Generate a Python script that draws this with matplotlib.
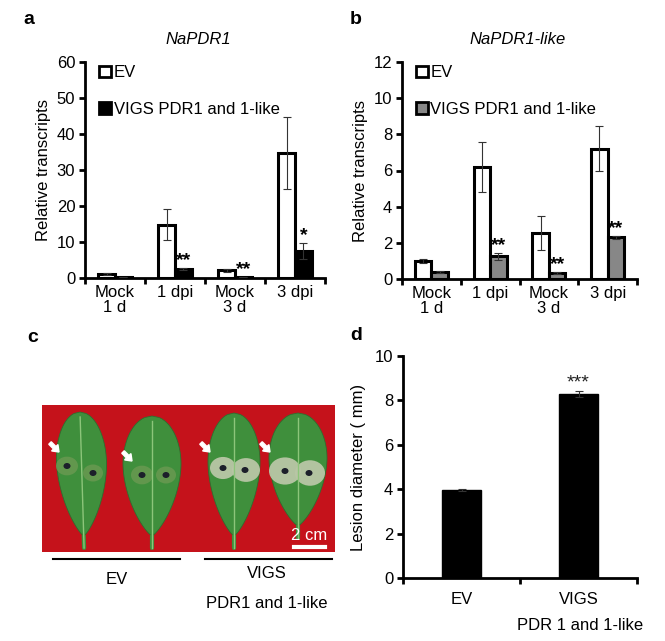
import matplotlib
matplotlib.use("Agg")
import matplotlib.pyplot as plt
import numpy as np
from matplotlib.patches import Patch, Rectangle, Ellipse, FancyArrow, Polygon

plt.rcParams['font.family'] = ['Liberation Sans', 'DejaVu Sans']
plt.rcParams['font.size'] = 12

# ---------------- data ----------------
categories = ["Mock\n1 d", "1 dpi", "Mock\n3 d", "3 dpi"]

pdr1_ev = [1.0, 14.8, 2.2, 34.7]
pdr1_ev_err = [0.3, 4.3, 0.4, 10.1]
pdr1_vigs = [0.3, 2.5, 0.3, 7.5]
pdr1_vigs_err = [0.1, 0.4, 0.1, 2.2]
pdr1_sig = ["", "**", "**", "*"]

like_ev = [1.0, 6.2, 2.55, 7.2]
like_ev_err = [0.12, 1.4, 0.92, 1.25]
like_vigs = [0.4, 1.25, 0.35, 2.3]
like_vigs_err = [0.05, 0.2, 0.05, 0.1]
like_sig = ["", "**", "**", "**"]

lesion_groups = ["EV", "VIGS"]
lesion_mean = [3.97, 8.3]
lesion_err = [0.05, 0.14]
lesion_sig = ["", "***"]

series_labels = ["EV", "VIGS PDR1 and 1-like"]

FS = 12
W, H = 665, 641
fig = plt.figure(figsize=(W / 100, H / 100), dpi=100)


def ax_px(l, t, r, b):
    return fig.add_axes([l / W, 1 - b / H, (r - l) / W, (b - t) / H])


def style_axis(ax):
    for s in ["top", "right"]:
        ax.spines[s].set_visible(False)
    for s in ["left", "bottom"]:
        ax.spines[s].set_linewidth(2.0)
    ax.tick_params(axis="y", direction="out", length=4, width=2.0, labelsize=FS, pad=3)


def transcripts_panel(ax, ev, ev_err, vi, vi_err, sig, ymax, step, vcolor):
    x = np.arange(len(categories))
    w = 0.28
    ax.bar(x - w / 2, ev, w, color="white", edgecolor="black", linewidth=2.2, zorder=3)
    ax.bar(x + w / 2, vi, w, color=vcolor, edgecolor="black", linewidth=2.2, zorder=3)
    ax.errorbar(x - w / 2, ev, yerr=ev_err, fmt="none", ecolor="#333333",
                elinewidth=0.8, capsize=3, capthick=0.8, zorder=4)
    ax.errorbar(x + w / 2, vi, yerr=vi_err, fmt="none", ecolor="#333333",
                elinewidth=0.8, capsize=3, capthick=0.8, zorder=4)
    for xi, v, e, s in zip(x, vi, vi_err, sig):
        if s:
            ax.text(xi + w / 2, v + e - ymax * 0.005, s, ha="center", va="bottom",
                    fontsize=14, fontweight="bold")
    ax.set_xlim(-0.5, len(categories) - 0.5)
    ax.set_ylim(0, ymax)
    ax.set_yticks(np.arange(0, ymax + 0.01, step))
    ax.set_xticks(x)
    ax.set_xticklabels(categories, fontsize=FS, linespacing=1.0)
    ax.tick_params(axis="x", which="major", length=0, pad=5)
    ax.set_xticks(np.arange(-0.5, len(categories) + 0.5, 1), minor=True)
    ax.tick_params(axis="x", which="minor", direction="out", length=4, width=2.0)
    ax.set_ylabel("Relative transcripts", fontsize=FS, labelpad=4)
    style_axis(ax)
    handles = [Patch(facecolor="white", edgecolor="black", linewidth=2.0),
               Patch(facecolor=vcolor, edgecolor="black", linewidth=2.0)]
    ax.legend(handles, series_labels, loc="upper left", bbox_to_anchor=(0.06, 0.985),
              frameon=False, handlelength=0.7, handleheight=0.7, handletextpad=0.15,
              labelspacing=1.3, borderaxespad=0, borderpad=0, fontsize=FS)


# ---------------- panel a ----------------
axa = ax_px(85, 62, 325, 278)
transcripts_panel(axa, pdr1_ev, pdr1_ev_err, pdr1_vigs, pdr1_vigs_err, pdr1_sig, 60, 10, "black")
fig.text(198 / W, 1 - 40 / H, "NaPDR1", style="italic", ha="center", va="center", fontsize=FS)
fig.text(29 / W, 1 - 20 / H, "a", fontweight="bold", ha="center", va="center", fontsize=14)

# ---------------- panel b ----------------
axb = ax_px(402, 62, 637, 279)
transcripts_panel(axb, like_ev, like_ev_err, like_vigs, like_vigs_err, like_sig, 12, 2, "#878787")
fig.text(518 / W, 1 - 40 / H, "NaPDR1-like", style="italic", ha="center", va="center", fontsize=FS)
fig.text(356 / W, 1 - 20 / H, "b", fontweight="bold", ha="center", va="center", fontsize=14)

# ---------------- panel d ----------------
axd = ax_px(403, 356, 637, 578)
xd = np.arange(len(lesion_groups))
axd.bar(xd, lesion_mean, 0.34, color="black", edgecolor="black", zorder=3)
axd.errorbar(xd, lesion_mean, yerr=lesion_err, fmt="none", ecolor="#333333",
             elinewidth=0.8, capsize=3, capthick=0.8, zorder=4)
for xi, v, e, s in zip(xd, lesion_mean, lesion_err, lesion_sig):
    if s:
        axd.text(xi, v + e - 0.05, s, ha="center", va="bottom", fontsize=14, color="#222222")
axd.set_xlim(-0.5, 1.5)
axd.set_ylim(0, 10)
axd.set_yticks(np.arange(0, 10.1, 2))
axd.set_xticks(xd)
axd.set_xticklabels(lesion_groups, fontsize=FS)
axd.tick_params(axis="x", which="major", length=0, pad=10)
axd.set_xticks([-0.5, 0.5, 1.5], minor=True)
axd.tick_params(axis="x", which="minor", direction="out", length=4, width=2.0)
axd.set_ylabel("Lesion diameter ( mm)", fontsize=FS, labelpad=6)
style_axis(axd)
fig.text(580 / W, 1 - 626 / H, "PDR 1 and 1-like", ha="center", va="center", fontsize=FS)
fig.text(356 / W, 1 - 335 / H, "d", fontweight="bold", ha="center", va="center", fontsize=14)

# ---------------- panel c (leaf photo drawn schematically) ----------------
fig.text(33 / W, 1 - 337 / H, "c", fontweight="bold", ha="center", va="center", fontsize=14)
axc = ax_px(42, 405, 335, 552)
axc.set_xlim(42, 335)
axc.set_ylim(552, 405)
axc.axis("off")
axc.add_patch(Rectangle((42, 405), 293, 147, facecolor="#c5121b", edgecolor="none"))


def leaf(cx, top, bot, half_w, tilt=0.0, stem=12):
    t = np.linspace(0, 1, 80)
    widest = 0.4
    prof = np.where(
        t < widest,
        np.sqrt(np.clip(1 - ((widest - t) / widest) ** 2, 0, 1)),
        np.clip(1 - ((t - widest) / (1 - widest)) ** 1.8, 0, 1) ** 0.8,
    ) * half_w
    ys = top + t * (bot - stem - top)
    xs_r = cx + prof + tilt * (ys - top)
    xs_l = cx - prof + tilt * (ys - top)
    pts = np.column_stack([np.concatenate([xs_r, xs_l[::-1]]), np.concatenate([ys, ys[::-1]])])
    axc.add_patch(Polygon(pts, closed=True, facecolor="#3f8f3c", edgecolor="#2f6e2e", lw=0.6))
    axc.plot([cx + tilt * (bot - stem - top), cx + tilt * (bot - top)], [bot - stem, bot],
             color="#3f8f3c", lw=3, solid_capstyle="round")
    axc.plot([cx + tilt * 5, cx + tilt * (bot - top)], [top + 5, bot], color="#8cc57a", lw=1.0)


leaf(80, 412, 548, 25, tilt=0.03)
leaf(152, 416, 548, 29)
leaf(234, 413, 548, 26)
leaf(298, 413, 538, 29)

# light lesion halos (VIGS leaves)
for cx, cy, r in [(223, 468, 13), (246, 470, 14), (285, 471, 16), (310, 473, 15)]:
    axc.add_patch(Ellipse((cx, cy), 2 * r, 1.7 * r, facecolor="#b9c6a6", edgecolor="none", alpha=0.95))
for cx, cy, r in [(67, 466, 11), (93, 473, 10), (142, 475, 11), (166, 475, 10)]:
    axc.add_patch(Ellipse((cx, cy), 2 * r, 1.7 * r, facecolor="#6b9a52", edgecolor="none", alpha=0.8))
# dark inoculation spots
for cx, cy in [(67, 466), (93, 473), (142, 475), (166, 475), (223, 468), (245, 470), (285, 471), (309, 473)]:
    axc.add_patch(Ellipse((cx, cy), 7, 6, facecolor="#1c1f2a", edgecolor="none"))
# white arrows
for ax_, ay_ in [(50, 443), (123, 452), (201, 443), (261, 443)]:
    axc.add_patch(FancyArrow(ax_, ay_, 9, 9, width=3.5, head_width=9, head_length=6,
                             color="white", length_includes_head=True))
# scale bar
axc.plot([294, 325], [547, 547], color="white", lw=3)
axc.text(309, 535, "2 cm", color="white", ha="center", va="center", fontsize=FS)

# group lines and labels under photo
fig.add_artist(plt.Line2D([53 / W, 180 / W], [1 - 559 / H, 1 - 559 / H], color="black", lw=1.5))
fig.add_artist(plt.Line2D([205 / W, 332 / W], [1 - 559 / H, 1 - 559 / H], color="black", lw=1.5))
fig.text(117 / W, 1 - 580 / H, "EV", ha="center", va="center", fontsize=FS)
fig.text(267 / W, 1 - 573 / H, "VIGS", ha="center", va="center", fontsize=FS)
fig.text(267 / W, 1 - 603 / H, "PDR1 and 1-like", ha="center", va="center", fontsize=FS)

fig.savefig("out.png", dpi=100)
